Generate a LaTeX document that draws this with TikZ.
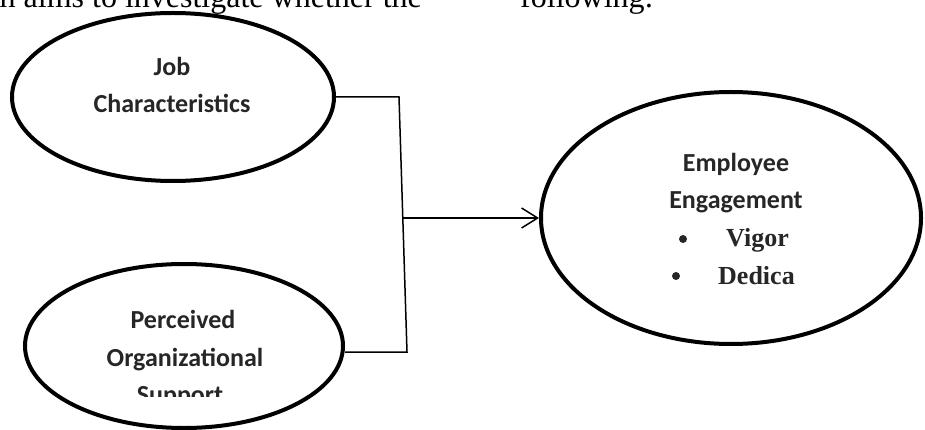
\documentclass[tikz,border=0pt]{standalone}
\usepackage{fontspec}
\setmainfont{Liberation Serif}
\newfontfamily\calfont{Carlito}
\usetikzlibrary{shapes.geometric,arrows.meta}
\tikzset{
  oval/.style={ellipse, draw=black, line width=4pt, inner sep=0pt, fill=white},
  ovaltext/.style={anchor=base, inner sep=0pt, text=black!85, font=\calfont\bfseries\fontsize{26}{30}\selectfont},
  bultext/.style={anchor=base west, inner sep=0pt, text=black!85, font=\bfseries\fontsize{26}{30}\selectfont},
  bulmark/.style={circle, fill=black!85, inner sep=0pt, minimum size=8pt},
  bodytext/.style={anchor=base, inner sep=0pt, font=\fontsize{32}{36}\selectfont},
  wire/.style={line width=1.5pt, black},
}
\begin{document}
\begin{tikzpicture}[x=1pt,y=-1pt]
\useasboundingbox (0,0) rectangle (925,430);
\clip (0,0) rectangle (925,430);
% cut-off body text
\node[bodytext, anchor=base east] (t1) at (422,8) {ch aims to investigate whether the};
\node[bodytext, anchor=base west] (t2) at (520,8) {following:};
% ovals
\node[oval, minimum width=322pt, minimum height=168pt] (jc) at (173,97) {};
\node[oval, minimum width=318pt, minimum height=164pt] (pos) at (184,346) {};
\node[oval, minimum width=380pt, minimum height=252pt] (ee) at (731,218) {};
% texts
\node[ovaltext] (jc1) at (172,76) {Job};
\node[ovaltext] (jc2) at (172,113) {Characteristics};
\node[ovaltext] (pos1) at (183,328) {Perceived};
\node[ovaltext] (pos2) at (185,366) {Organizational};
\begin{scope}
\clip (100,380) rectangle (260,396);
\node[ovaltext] (pos3) at (180,403) {Support};
\end{scope}
\node[ovaltext] (ee1) at (736,172) {Employee};
\node[ovaltext] (ee2) at (736,209) {Engagement};
\node[bulmark] (b1) at (683,239) {};
\node[bultext] (v1) at (726,247) {Vigor};
\node[bulmark] (b2) at (676,276) {};
\node[bultext] (v2) at (718,284) {Dedica};
% connectors
\coordinate (c1) at (399,95);
\coordinate (c2) at (407,352);
\coordinate (c3) at (403,218);
\draw[wire] (jc.east) -- (jc.east -| c1) -- (c2) -- (c2 -| pos.east);
\draw[wire, -{Straight Barb[length=16pt,width=20pt,line width=1.5pt]}] (c3) -- (ee.west);
\end{tikzpicture}
\end{document}
